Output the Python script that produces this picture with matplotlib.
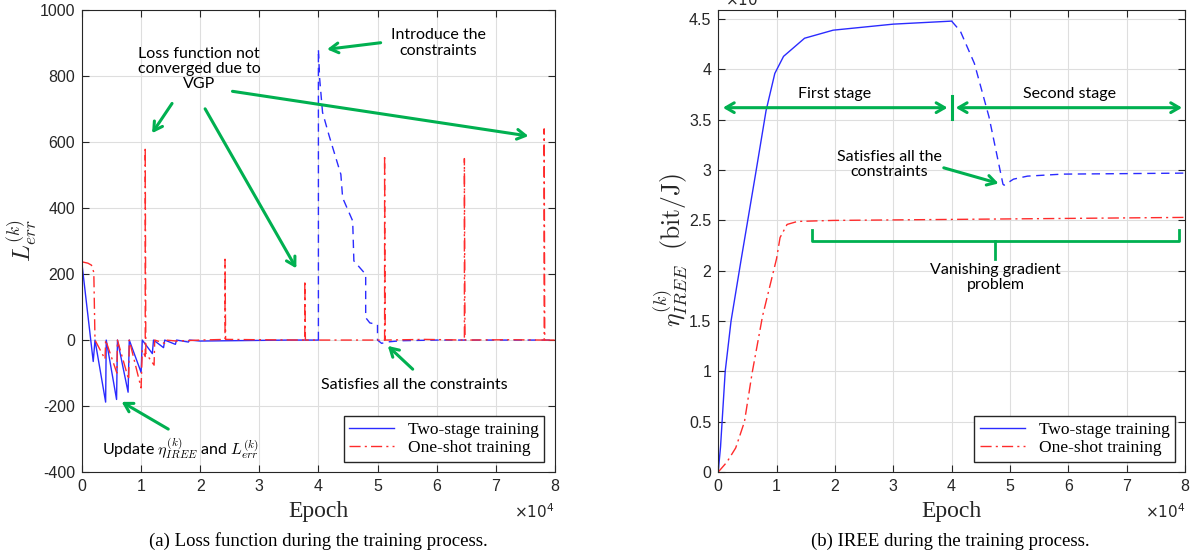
import matplotlib
matplotlib.use("Agg")
import matplotlib.pyplot as plt

plt.rcParams.update({
    "font.family": "Liberation Sans",
    "mathtext.fontset": "cm",
    "axes.linewidth": 0.8,
    "axes.unicode_minus": False,
})

BLUE = "#2b2bff"
RED = "#ff2b2b"
GREEN = "#00b050"
AXCOL = "#262626"
GRIDC = "#dedede"
ANNO_FONT = "Lato"

# ---- (a) loss function, epochs in units of 1e4 ----
loss_two_x1 = [0, 0.19, 0.22, 0.40, 0.41, 0.585, 0.60, 0.78, 0.80, 1.00, 1.02,
               1.19, 1.21, 1.38, 1.40, 1.58, 1.60, 1.80, 1.82, 2.0, 2.5, 3.0, 3.5, 4.0]
loss_two_y1 = [230, -65, 0, -188, 0, -180, 0, -158, 0, -98, 0,
               -41, 0, -23, 0, -13, 0, -6, 0, -3, -2, -1, 0, 0]
loss_two_x2 = [4.0, 4.0, 4.02, 4.07, 4.18, 4.38, 4.41, 4.58, 4.60, 4.80, 4.80,
               4.87, 5.0, 5.0, 5.07, 5.15, 5.4, 6.0, 8.0]
loss_two_y2 = [0, 881, 795, 690, 620, 502, 431, 361, 240, 199, 68,
               52, 47, 0, -10, -6, -2, 0, 0]

loss_one_x = [0, 0.10, 0.16, 0.20, 0.21, 0.22, 0.39, 0.40, 0.59, 0.60, 0.79, 0.80,
              1.00, 1.02, 1.07, 1.07, 1.08, 1.10, 1.22, 1.23, 1.40, 1.42, 1.60, 2.0,
              2.42, 2.42, 2.43, 3.0, 3.77, 3.77, 3.78, 4.5, 5.12, 5.12, 5.13, 5.8,
              6.47, 6.47, 6.48, 7.2, 7.82, 7.82, 7.83, 8.0]
loss_one_y = [237, 233, 227, 205, 100, 0, -58, 0, -100, 0, -120, 0,
              -145, -30, -50, 585, -40, -45, -76, 0, -10, 0, -3, 0,
              2, 245, 2, 1, 0, 180, 0, 0, 0, 560, 0, 2,
              0, 550, 0, 1, 0, 640, 0, 0]

# ---- (b) IREE ----
iree_two_x1 = [0, 0.04, 0.12, 0.22, 0.39, 0.64, 0.82, 0.97, 1.12, 1.48, 1.97, 3.0, 4.0]
iree_two_y1 = [0, 0.25, 1.0, 1.5, 2.1, 2.96, 3.59, 3.96, 4.13, 4.31, 4.39, 4.45, 4.48]
iree_two_x2 = [4.0, 4.15, 4.39, 4.64, 4.88, 4.90, 5.06, 5.3, 5.9, 7.0, 8.0]
iree_two_y2 = [4.48, 4.38, 4.06, 3.53, 2.86, 2.85, 2.91, 2.94, 2.96, 2.965, 2.97]
iree_one_x = [0, 0.15, 0.30, 0.45, 0.58, 0.76, 1.0, 1.06, 1.18, 1.36, 1.97,
              3.0, 4.0, 5.0, 6.0, 7.0, 8.0]
iree_one_y = [0, 0.10, 0.24, 0.50, 0.98, 1.55, 2.12, 2.33, 2.46, 2.49, 2.50,
              2.505, 2.51, 2.515, 2.52, 2.525, 2.53]

fig = plt.figure(figsize=(11.97, 5.58), dpi=100)
ax1 = fig.add_axes([0.0685, 0.154, 0.395, 0.828])
ax2 = fig.add_axes([0.600, 0.154, 0.390, 0.828])


def style(ax):
    ax.grid(True, color=GRIDC, lw=0.8)
    ax.set_axisbelow(True)
    ax.tick_params(direction="in", top=True, right=True, length=5,
                   labelsize=11.5, colors=AXCOL, width=0.8, pad=5)
    for s in ax.spines.values():
        s.set_color(AXCOL)
    ax.set_xlim(0, 8)
    ax.set_xticks(range(0, 9))
    ax.set_xlabel("Epoch", family="Liberation Serif", fontsize=17,
                  color=AXCOL, labelpad=5)
    ax.text(1.0, -0.086, r"$\times10^4$", transform=ax.transAxes, ha="right",
            va="center", fontsize=11, color=AXCOL,
            math_fontfamily="dejavusans")


def legend(ax):
    ax.legend(loc="lower right", prop={"family": "Liberation Serif", "size": 12.5},
              fancybox=False, edgecolor=AXCOL, framealpha=1, handlelength=2.6,
              borderaxespad=0.6, borderpad=0.3, labelspacing=0.15)


# ---------- left panel ----------
ax1.plot(loss_two_x1, loss_two_y1, color=BLUE, lw=1.0, label="Two-stage training")
ax1.plot(loss_two_x2, loss_two_y2, color=BLUE, lw=1.0, ls=(0, (6, 4)))
ax1.plot(loss_one_x, loss_one_y, color=RED, lw=1.0, ls=(0, (8, 3, 1.5, 3)),
         label="One-shot training")
ax1.set_ylim(-400, 1000)
ax1.set_yticks(range(-400, 1001, 200))
style(ax1)
ax1.set_ylabel(r"$L_{err}^{(k)}$", fontsize=18, color=AXCOL)
ax1.yaxis.set_label_coords(-0.088, 0.5)
legend(ax1)

arr = dict(arrowstyle="->, head_length=0.6, head_width=0.35", color=GREEN, lw=2.2)
fs = 11.5
ax1.text(1.98, 821, "Loss function not\nconverged due to\nVGP", ha="center",
         va="center", fontsize=fs, family=ANNO_FONT, linespacing=1.1)
ax1.annotate("", xy=(1.16, 620), xytext=(1.55, 724), arrowprops=arr)
ax1.annotate("", xy=(3.65, 210), xytext=(2.06, 708), arrowprops=arr)
ax1.annotate("", xy=(7.6, 617), xytext=(2.5, 755), arrowprops=arr)
ax1.text(6.03, 900, "Introduce the\nconstraints", ha="center", va="center",
         fontsize=fs, family=ANNO_FONT, linespacing=1.1)
ax1.annotate("", xy=(4.1, 880), xytext=(5.1, 902), arrowprops=arr)
ax1.text(5.63, -135, "Satisfies all the constraints", ha="center", va="center",
         fontsize=fs, family=ANNO_FONT)
ax1.annotate("", xy=(5.14, -12), xytext=(5.63, -94), arrowprops=arr)
ax1.text(1.66, -329, r"Update $\eta_{IREE}^{(k)}$ and $L_{err}^{(k)}$", ha="center",
         va="center", fontsize=fs, family=ANNO_FONT)
ax1.annotate("", xy=(0.63, -183), xytext=(1.5, -274), arrowprops=arr)

# ---------- right panel ----------
ax2.plot(iree_two_x1, iree_two_y1, color=BLUE, lw=1.0, label="Two-stage training")
ax2.plot(iree_two_x2, iree_two_y2, color=BLUE, lw=1.0, ls=(0, (6, 4)))
ax2.plot(iree_one_x, iree_one_y, color=RED, lw=1.0, ls=(0, (8, 3, 1.5, 3)),
         label="One-shot training")
ax2.set_ylim(0, 4.59)
ax2.set_yticks([0, 0.5, 1, 1.5, 2, 2.5, 3, 3.5, 4, 4.5])
ax2.set_yticklabels(["0", "0.5", "1", "1.5", "2", "2.5", "3", "3.5", "4", "4.5"])
style(ax2)
ax2.set_ylabel(r"$\eta_{IREE}^{(k)}\ \ (\mathrm{bit/J})$", fontsize=18.5, color=AXCOL)
ax2.yaxis.set_label_coords(-0.06, 0.48)
legend(ax2)
fig.text(0.606, 1.0, r"$\times10^6$", ha="left", va="center", fontsize=11,
         color=AXCOL, math_fontfamily="dejavusans")

darr = dict(arrowstyle="<->, head_length=0.6, head_width=0.35", color=GREEN, lw=2.2,
            shrinkA=0, shrinkB=0)
ax2.annotate("", xy=(0.08, 3.62), xytext=(3.93, 3.62), arrowprops=darr)
ax2.annotate("", xy=(4.07, 3.62), xytext=(7.95, 3.62), arrowprops=darr)
ax2.plot([4.0, 4.0], [3.51, 3.74], color=GREEN, lw=2.2)
ax2.text(1.99, 3.76, "First stage", ha="center", va="center", fontsize=fs,
         family=ANNO_FONT)
ax2.text(6.02, 3.76, "Second stage", ha="center", va="center", fontsize=fs,
         family=ANNO_FONT)
ax2.text(2.93, 3.06, "Satisfies all the\nconstraints", ha="center", va="center",
         fontsize=fs, family=ANNO_FONT, linespacing=1.1)
ax2.annotate("", xy=(4.85, 2.86), xytext=(3.82, 3.03), arrowprops=arr)
ax2.plot([1.61, 1.61, 7.89, 7.89], [2.4, 2.3, 2.3, 2.4], color=GREEN, lw=2.0)
ax2.plot([4.75, 4.75], [2.3, 2.12], color=GREEN, lw=2.0)
ax2.text(4.75, 1.93, "Vanishing gradient\nproblem", ha="center", va="center",
         fontsize=fs, family=ANNO_FONT, linespacing=1.1)

fig.text(0.266, 0.0305, "(a) Loss function during the training process.",
         ha="center", va="center", family="Liberation Serif", fontsize=13.5)
fig.text(0.794, 0.0305, "(b) IREE during the training process.",
         ha="center", va="center", family="Liberation Serif", fontsize=13.5)

fig.savefig("out.png", dpi=100)
